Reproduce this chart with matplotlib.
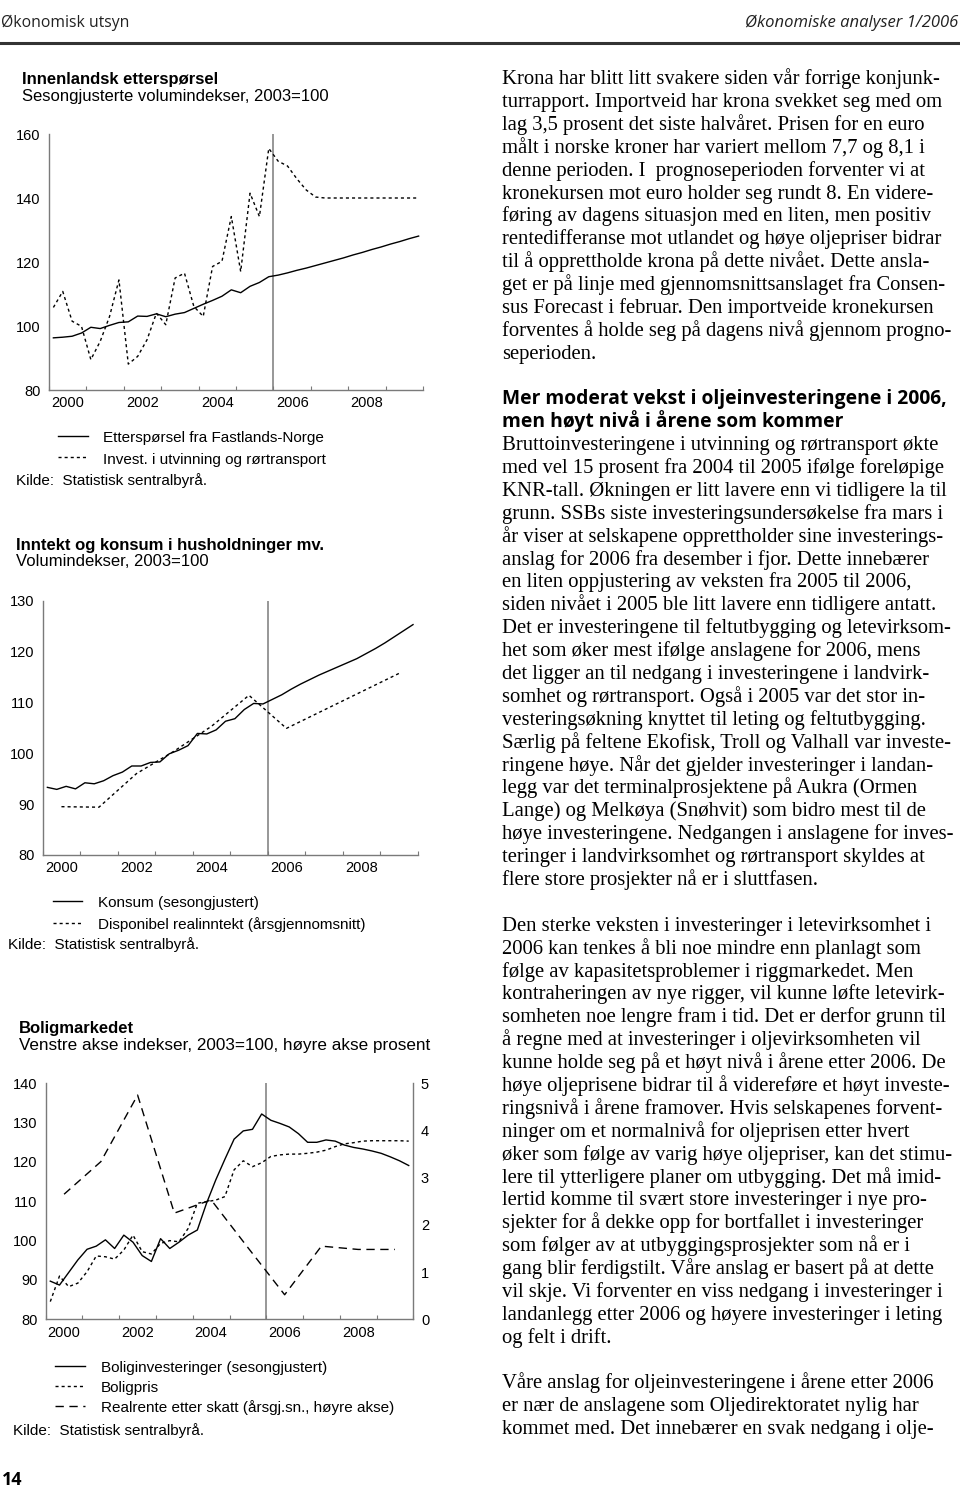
import numpy as np
import pandas as pd
import matplotlib
matplotlib.use('Agg')
import matplotlib.pyplot as plt

W, H = 960, 1491
SANS = ['Liberation Sans', 'DejaVu Sans']
SERIF = ['Liberation Serif', 'DejaVu Serif']
HEAD = ['Open Sans', 'DejaVu Sans']
AXC = '#7a7a7a'
plt.rcParams['font.family'] = SANS
plt.rcParams['axes.edgecolor'] = AXC
plt.rcParams['xtick.color'] = AXC
plt.rcParams['ytick.color'] = AXC
plt.rcParams['xtick.labelcolor'] = 'black'
plt.rcParams['ytick.labelcolor'] = 'black'

# ---------- data (quarterly 2000Q1-2009Q4 unless noted) ----------
quarters = pd.period_range('2000Q1', '2009Q4', freq='Q')
qx = np.array(quarters.year + (quarters.quarter - 0.5) / 4)
years_mid = np.arange(2000, 2010) + 0.5

# chart 1: Innenlandsk etterspørsel
ett_fastland = [96.3, 96.5, 96.8, 97.8, 99.6, 99.2, 100.2, 101.1,
                101.3, 103.1, 103.0, 103.8, 102.9, 103.7, 104.2, 105.5,
                106.8, 108.0, 109.3, 111.3, 110.4, 112.4, 113.6, 115.4,
                115.9, 116.6, 117.4, 118.1, 118.9, 119.7, 120.5, 121.3,
                122.2, 123.0, 123.9, 124.7, 125.6, 126.4, 127.3, 128.1]
invest_olje = [105.8, 110.8, 101.5, 99.9, 89.5, 95.2, 103.0, 114.4,
               88.1, 90.5, 95.7, 104.0, 100.4, 115.0, 116.5, 106.1,
               103.0, 118.6, 120.2, 134.2, 117.0, 141.5, 134.2, 155.5,
               151.5, 150.0, 146.0, 142.5, 140.3, 140.0, 140.0, 140.0,
               140.0, 140.0, 140.0, 140.0, 140.0, 140.0, 140.0, 140.0]

# chart 2: Inntekt og konsum i husholdninger
konsum = [93.3, 92.9, 93.5, 93.0, 94.2, 94.0, 94.6, 95.6,
          96.3, 97.5, 97.5, 98.2, 98.3, 99.9, 100.6, 101.5,
          103.9, 103.8, 104.6, 106.3, 106.8, 108.6, 109.8, 109.7,
          110.6, 111.5, 112.6, 113.6, 114.5, 115.4, 116.2, 117.0,
          117.8, 118.6, 119.6, 120.6, 121.7, 122.9, 124.1, 125.3]
disp_inntekt = [89.5, 89.4, 96.0, 100.4, 105.3, 111.4, 104.9, 108.5, 112.1, 115.7]  # annual, mid-year

# chart 3: Boligmarkedet
boliginv = [89.7, 88.7, 91.9, 95.1, 97.8, 98.6, 100.2, 98.0,
            101.4, 99.6, 96.2, 94.7, 100.5, 98.0, 99.6, 101.4,
            102.7, 109.5, 115.4, 120.7, 125.8, 127.9, 128.3, 132.2,
            130.6, 129.8, 128.9, 127.2, 125.0, 125.0, 125.6, 125.3,
            124.3, 123.7, 123.3, 122.8, 122.2, 121.3, 120.3, 119.1]
boligpris = [84.5, 91.0, 88.3, 89.2, 92.1, 96.1, 95.9, 95.3,
             97.6, 101.4, 97.2, 96.6, 99.3, 100.0, 99.7, 103.1,
             109.5, 109.9, 110.3, 111.2, 118.0, 120.3, 118.8, 119.8,
             121.4, 121.8, 122.0, 122.0, 122.2, 122.5, 123.0, 123.9,
             124.6, 124.9, 125.3, 125.4, 125.4, 125.4, 125.4, 125.3]
realrente = [2.65, 3.34, 4.75, 2.25, 2.53, 1.52, 0.52, 1.55, 1.48, 1.48]  # annual, right axis

DOT = (0, (2.2, 2.2))
DASH = (0, (6, 4))
TICK_FS = 10.5
TITLE_FS = 12
LEG_FS = 11

fig = plt.figure(figsize=(W / 100, H / 100), dpi=100)
bg = fig.add_axes([0, 0, 1, 1])
bg.set_xlim(0, W); bg.set_ylim(H, 0); bg.axis('off')


def ax_at(left, top, right, bottom):
    ax = fig.add_axes([left / W, 1 - bottom / H, (right - left) / W, (bottom - top) / H])
    ax.patch.set_alpha(0)
    return ax


def style(ax, ylo, yhi, ystep, xpad=4):
    ax.set_xlim(2000, 2010); ax.set_ylim(ylo, yhi)
    for s in ('top', 'right'):
        ax.spines[s].set_visible(False)
    for s in ('left', 'bottom'):
        ax.spines[s].set_linewidth(1.0)
    ax.set_xticks(range(2000, 2011))
    ax.set_xticklabels([])
    ax.set_xticks(years_mid[::2], minor=True)
    ax.set_xticklabels([str(y) for y in range(2000, 2010, 2)], minor=True, fontsize=TICK_FS)
    ax.tick_params(axis='x', which='major', direction='in', length=3, width=0.8)
    ax.tick_params(axis='x', which='minor', length=0, pad=xpad)
    ax.set_yticks(np.arange(ylo, yhi + 1, ystep))
    ax.tick_params(axis='y', direction='in', length=0, pad=6, labelsize=TICK_FS)
    ax.axvline(2006, color=AXC, lw=1.1)


def legend(x0, x1, xt, rows):
    for y, ls, label in rows:
        bg.plot([x0, x1], [y, y], color='black', lw=1.0, linestyle=ls)
        bg.text(xt, y + 6.3, label, fontsize=LEG_FS, va='baseline')


# ---------- header ----------
bg.text(1, 27, 'Økonomisk utsyn', family=HEAD, fontsize=11.3, va='baseline', color='#222222')
bg.text(958, 27, 'Økonomiske analyser 1/2006', family=HEAD, fontsize=12, style='italic',
        ha='right', va='baseline', color='#222222')
bg.plot([0, 960], [43, 43], color='#333333', lw=2.2)
bg.text(2, 1485, '14', family=HEAD, fontsize=13, weight='bold', va='baseline')

# ---------- chart 1 ----------
bg.text(21.7, 84, 'Innenlandsk etterspørsel', fontsize=TITLE_FS, weight='bold', va='baseline')
bg.text(21.7, 100.7, 'Sesongjusterte volumindekser, 2003=100', fontsize=TITLE_FS, va='baseline')
ax1 = ax_at(48.7, 134, 423.3, 390)
style(ax1, 80, 160, 20)
ax1.plot(qx, ett_fastland, color='black', lw=1.0)
ax1.plot(qx, invest_olje, color='black', lw=1.0, linestyle=DOT)
legend(58, 88, 103.3, [(435.7, '-', 'Etterspørsel fra Fastlands-Norge'),
                       (457.3, DOT, 'Invest. i utvinning og rørtransport')])
bg.text(16, 485, 'Kilde:  Statistisk sentralbyrå.', fontsize=LEG_FS, va='baseline')

# ---------- chart 2 ----------
bg.text(16, 550, 'Inntekt og konsum i husholdninger mv.', fontsize=TITLE_FS, weight='bold', va='baseline')
bg.text(16, 566, 'Volumindekser, 2003=100', fontsize=TITLE_FS, va='baseline')
ax2 = ax_at(42.7, 600.7, 417.7, 855)
style(ax2, 80, 130, 10)
ax2.plot(qx, konsum, color='black', lw=1.0)
ax2.plot(years_mid, disp_inntekt, color='black', lw=1.0, linestyle=DOT)
legend(53, 82, 97.7, [(901, '-', 'Konsum (sesongjustert)'),
                      (922.7, DOT, 'Disponibel realinntekt (årsgjennomsnitt)')])
bg.text(8, 949, 'Kilde:  Statistisk sentralbyrå.', fontsize=LEG_FS, va='baseline')

# ---------- chart 3 ----------
bg.text(19, 1032.7, 'Boligmarkedet', fontsize=TITLE_FS, weight='bold', va='baseline')
bg.text(19, 1050, 'Venstre akse indekser, 2003=100, høyre akse prosent', fontsize=12.3, va='baseline')
ax3 = ax_at(45.7, 1083.3, 413.3, 1319.3)
style(ax3, 80, 140, 10, xpad=5)
ax3.plot(qx, boliginv, color='black', lw=1.0)
ax3.plot(qx, boligpris, color='black', lw=1.0, linestyle=DOT)
ax3r = ax3.twinx()
ax3r.set_ylim(0, 5)
ax3r.set_yticks(range(0, 6))
for s in ('top', 'left', 'bottom'):
    ax3r.spines[s].set_visible(False)
ax3r.spines['right'].set_linewidth(1.0)
ax3r.tick_params(axis='y', direction='in', length=0, pad=5.5, labelsize=TICK_FS)
ax3r.plot(years_mid, realrente, color='black', lw=1.0, linestyle=DASH)
legend(55, 85, 100.7, [(1366, '-', 'Boliginvesteringer (sesongjustert)'),
                       (1386, DOT, 'Boligpris'),
                       (1406, DASH, 'Realrente etter skatt (årsgj.sn., høyre akse)')])
bg.text(12.7, 1435, 'Kilde:  Statistisk sentralbyrå.', fontsize=LEG_FS, va='baseline')

# ---------- body text ----------
para1 = ['Krona har blitt litt svakere siden vår forrige konjunk-',
         'turrapport. Importveid har krona svekket seg med om',
         'lag 3,5 prosent det siste halvåret. Prisen for en euro',
         'målt i norske kroner har variert mellom 7,7 og 8,1 i',
         'denne perioden. I  prognoseperioden forventer vi at',
         'kronekursen mot euro holder seg rundt 8. En videre-',
         'føring av dagens situasjon med en liten, men positiv',
         'rentedifferanse mot utlandet og høye oljepriser bidrar',
         'til å opprettholde krona på dette nivået. Dette ansla-',
         'get er på linje med gjennomsnittsanslaget fra Consen-',
         'sus Forecast i februar. Den importveide kronekursen',
         'forventes å holde seg på dagens nivå gjennom progno-',
         'seperioden.']
heading = ['Mer moderat vekst i oljeinvesteringene i 2006,',
           'men høyt nivå i årene som kommer']
para2 = ['Bruttoinvesteringene i utvinning og rørtransport økte',
         'med vel 15 prosent fra 2004 til 2005 ifølge foreløpige',
         'KNR-tall. Økningen er litt lavere enn vi tidligere la til',
         'grunn. SSBs siste investeringsundersøkelse fra mars i',
         'år viser at selskapene opprettholder sine investerings-',
         'anslag for 2006 fra desember i fjor. Dette innebærer',
         'en liten oppjustering av veksten fra 2005 til 2006,',
         'siden nivået i 2005 ble litt lavere enn tidligere antatt.',
         'Det er investeringene til feltutbygging og letevirksom-',
         'het som øker mest ifølge anslagene for 2006, mens',
         'det ligger an til nedgang i investeringene i landvirk-',
         'somhet og rørtransport. Også i 2005 var det stor in-',
         'vesteringsøkning knyttet til leting og feltutbygging.',
         'Særlig på feltene Ekofisk, Troll og Valhall var investe-',
         'ringene høye. Når det gjelder investeringer i landan-',
         'legg var det terminalprosjektene på Aukra (Ormen',
         'Lange) og Melkøya (Snøhvit) som bidro mest til de',
         'høye investeringene. Nedgangen i anslagene for inves-',
         'teringer i landvirksomhet og rørtransport skyldes at',
         'flere store prosjekter nå er i sluttfasen.']
para3 = ['Den sterke veksten i investeringer i letevirksomhet i',
         '2006 kan tenkes å bli noe mindre enn planlagt som',
         'følge av kapasitetsproblemer i riggmarkedet. Men',
         'kontraheringen av nye rigger, vil kunne løfte letevirk-',
         'somheten noe lengre fram i tid. Det er derfor grunn til',
         'å regne med at investeringer i oljevirksomheten vil',
         'kunne holde seg på et høyt nivå i årene etter 2006. De',
         'høye oljeprisene bidrar til å videreføre et høyt investe-',
         'ringsnivå i årene framover. Hvis selskapenes forvent-',
         'ninger om et normalnivå for oljeprisen etter hvert',
         'øker som følge av varig høye oljepriser, kan det stimu-',
         'lere til ytterligere planer om utbygging. Det må imid-',
         'lertid komme til svært store investeringer i nye pro-',
         'sjekter for å dekke opp for bortfallet i investeringer',
         'som følger av at utbyggingsprosjekter som nå er i',
         'gang blir ferdigstilt. Våre anslag er basert på at dette',
         'vil skje. Vi forventer en viss nedgang i investeringer i',
         'landanlegg etter 2006 og høyere investeringer i leting',
         'og felt i drift.']
para4 = ['Våre anslag for oljeinvesteringene i årene etter 2006',
         'er nær de anslagene som Oljedirektoratet nylig har',
         'kommet med. Det innebærer en svak nedgang i olje-']

TX = 501.7
LS = 22.9
BODY_FS = 14.9


def block(lines, y0, **kw):
    for i, s in enumerate(lines):
        bg.text(TX, y0 + i * LS, s, va='baseline', **kw)


block(para1, 84, family=SERIF, fontsize=BODY_FS)
bg.text(TX, 404, heading[0], family=HEAD, fontsize=13.9, weight='bold', va='baseline')
bg.text(TX, 426.7, heading[1], family=HEAD, fontsize=13.9, weight='bold', va='baseline')
block(para2, 450, family=SERIF, fontsize=BODY_FS)
block(para3, 930.7, family=SERIF, fontsize=BODY_FS)
block(para4, 1388.3, family=SERIF, fontsize=BODY_FS)

fig.savefig('out.png', dpi=100)
